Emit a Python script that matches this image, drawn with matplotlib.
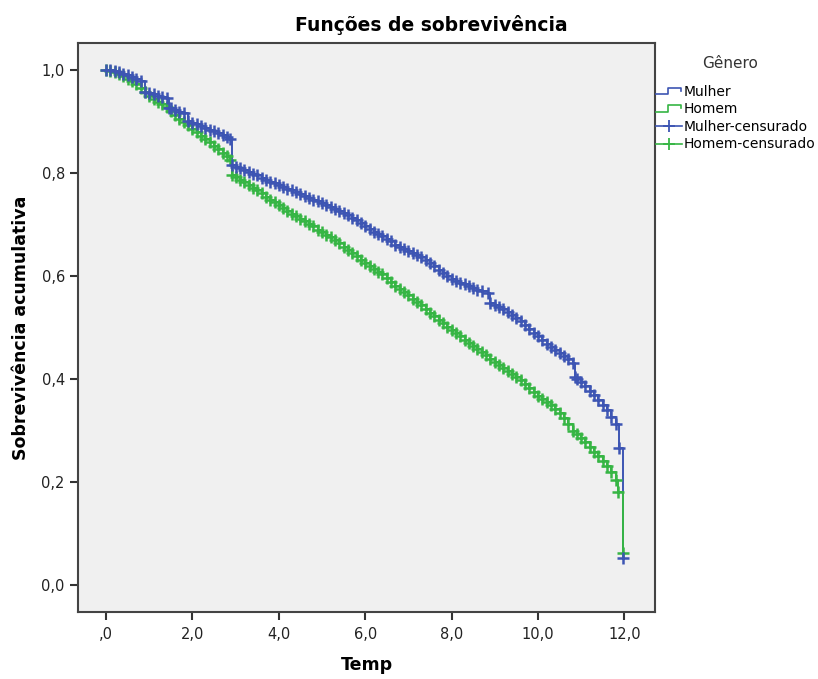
import matplotlib
matplotlib.use("Agg")
import matplotlib.pyplot as plt
from matplotlib.lines import Line2D
from matplotlib.legend_handler import HandlerBase

plt.rcParams['font.family'] = ['DejaVu Sans']

# Kaplan-Meier estimates
mulher_t = [0.0, 0.1, 0.2, 0.3, 0.4, 0.5, 0.6, 0.7, 0.8, 0.9, 1.0, 1.1, 1.2, 1.3, 1.4, 1.45,
            1.5, 1.6, 1.7, 1.8, 1.9, 2.0, 2.1, 2.2, 2.3, 2.4, 2.5, 2.6, 2.7, 2.8, 2.88, 2.92,
            3.0, 3.1, 3.2, 3.3, 3.4, 3.5, 3.6, 3.7, 3.8, 3.9, 4.0, 4.1, 4.2, 4.3, 4.4, 4.5,
            4.6, 4.7, 4.8, 4.9, 5.0, 5.1, 5.2, 5.3, 5.4, 5.5, 5.6, 5.7, 5.8, 5.9, 6.0, 6.1,
            6.2, 6.3, 6.4, 6.5, 6.6, 6.7, 6.8, 6.9, 7.0, 7.1, 7.2, 7.3, 7.4, 7.5, 7.6, 7.7,
            7.8, 7.9, 8.0, 8.1, 8.2, 8.3, 8.4, 8.5, 8.6, 8.7, 8.85, 8.9, 9.0, 9.1, 9.2, 9.3,
            9.4, 9.5, 9.6, 9.7, 9.8, 9.9, 10.0, 10.1, 10.2, 10.3, 10.4, 10.5, 10.6, 10.7,
            10.8, 10.85, 10.9, 11.0, 11.1, 11.2, 11.3, 11.4, 11.5, 11.6, 11.7, 11.8, 11.88,
            11.97]
mulher_s = [1.000, 0.999, 0.997, 0.995, 0.992, 0.989, 0.986, 0.982, 0.978, 0.957, 0.955,
            0.953, 0.950, 0.948, 0.945, 0.926, 0.925, 0.922, 0.919, 0.916, 0.900, 0.897,
            0.894, 0.891, 0.888, 0.884, 0.881, 0.877, 0.873, 0.869, 0.866, 0.815, 0.812,
            0.809, 0.806, 0.802, 0.798, 0.795, 0.791, 0.787, 0.783, 0.780, 0.776, 0.773,
            0.769, 0.766, 0.762, 0.759, 0.755, 0.752, 0.748, 0.745, 0.741, 0.738, 0.734,
            0.730, 0.726, 0.722, 0.718, 0.713, 0.708, 0.702, 0.696, 0.691, 0.686, 0.682,
            0.677, 0.672, 0.667, 0.661, 0.656, 0.652, 0.648, 0.644, 0.640, 0.636, 0.631,
            0.625, 0.619, 0.612, 0.606, 0.600, 0.595, 0.591, 0.587, 0.584, 0.580, 0.576,
            0.573, 0.570, 0.567, 0.547, 0.543, 0.539, 0.535, 0.530, 0.525, 0.519, 0.512,
            0.505, 0.497, 0.490, 0.483, 0.475, 0.468, 0.462, 0.456, 0.450, 0.445, 0.438,
            0.431, 0.404, 0.400, 0.395, 0.386, 0.377, 0.369, 0.360, 0.350, 0.340, 0.327,
            0.312, 0.266, 0.052]

homem_t = [0.0, 0.1, 0.2, 0.3, 0.4, 0.5, 0.6, 0.7, 0.8, 0.9, 1.0, 1.1, 1.2, 1.3, 1.4, 1.5,
           1.6, 1.7, 1.8, 1.9, 2.0, 2.1, 2.2, 2.3, 2.4, 2.5, 2.6, 2.7, 2.8, 2.88, 2.92, 3.0,
           3.1, 3.2, 3.3, 3.4, 3.5, 3.6, 3.7, 3.8, 3.9, 4.0, 4.1, 4.2, 4.3, 4.4, 4.5, 4.6,
           4.7, 4.8, 4.9, 5.0, 5.1, 5.2, 5.3, 5.4, 5.5, 5.6, 5.7, 5.8, 5.9, 6.0, 6.1, 6.2,
           6.3, 6.4, 6.5, 6.6, 6.7, 6.8, 6.9, 7.0, 7.1, 7.2, 7.3, 7.4, 7.5, 7.6, 7.7, 7.8,
           7.9, 8.0, 8.1, 8.2, 8.3, 8.4, 8.5, 8.6, 8.7, 8.8, 8.9, 9.0, 9.1, 9.2, 9.3, 9.4,
           9.5, 9.6, 9.7, 9.8, 9.9, 10.0, 10.1, 10.2, 10.3, 10.4, 10.5, 10.6, 10.7, 10.8,
           10.9, 11.0, 11.1, 11.2, 11.3, 11.4, 11.5, 11.6, 11.7, 11.8, 11.86, 11.97]
homem_s = [1.000, 0.998, 0.995, 0.992, 0.988, 0.983, 0.978, 0.972, 0.965, 0.957, 0.950,
           0.944, 0.938, 0.933, 0.927, 0.920, 0.912, 0.905, 0.898, 0.892, 0.886, 0.879,
           0.872, 0.866, 0.860, 0.853, 0.846, 0.839, 0.832, 0.825, 0.796, 0.792, 0.787,
           0.782, 0.777, 0.771, 0.766, 0.760, 0.754, 0.748, 0.743, 0.737, 0.732, 0.727,
           0.721, 0.716, 0.711, 0.706, 0.701, 0.696, 0.690, 0.685, 0.680, 0.675, 0.669,
           0.663, 0.657, 0.651, 0.645, 0.638, 0.631, 0.625, 0.619, 0.613, 0.608, 0.603,
           0.596, 0.588, 0.581, 0.575, 0.569, 0.563, 0.556, 0.549, 0.543, 0.536, 0.529,
           0.522, 0.515, 0.508, 0.501, 0.495, 0.489, 0.483, 0.476, 0.470, 0.464, 0.458,
           0.452, 0.446, 0.439, 0.433, 0.427, 0.421, 0.416, 0.410, 0.404, 0.398, 0.390,
           0.382, 0.374, 0.367, 0.361, 0.355, 0.349, 0.342, 0.334, 0.325, 0.312, 0.300,
           0.293, 0.285, 0.277, 0.268, 0.259, 0.250, 0.241, 0.232, 0.219, 0.205, 0.180,
           0.062]

x_ticks = [0, 2, 4, 6, 8, 10, 12]
x_tick_labels = [",0", "2,0", "4,0", "6,0", "8,0", "10,0", "12,0"]
y_ticks = [0.0, 0.2, 0.4, 0.6, 0.8, 1.0]
y_tick_labels = ["0,0", "0,2", "0,4", "0,6", "0,8", "1,0"]

BLUE = "#3d55b3"
GREEN = "#36b544"

fig = plt.figure(figsize=(8.18, 6.79), dpi=100)
ax = fig.add_axes([78/818, 1-612/679, (655-78)/818, (612-43)/679])
ax.set_facecolor("#f0f0f0")

ax.step(mulher_t, mulher_s, where='post', color=BLUE, lw=1.4, zorder=3)
ax.step(homem_t, homem_s, where='post', color=GREEN, lw=1.4, zorder=3)
ax.plot(homem_t, homem_s, ls='none', marker='+', ms=8, mew=1.8, color=GREEN, zorder=4)
ax.plot(mulher_t, mulher_s, ls='none', marker='+', ms=8, mew=1.8, color=BLUE, zorder=4)

ax.set_xlim(-0.65, 12.71)
ax.set_ylim(-0.052, 1.052)
ax.set_xticks(x_ticks)
ax.set_xticklabels(x_tick_labels)
ax.set_yticks(y_ticks)
ax.set_yticklabels(y_tick_labels)
ax.tick_params(axis='both', direction='out', length=6, width=1.5, color="#333333",
               labelsize=10.5, labelcolor="#222222")
ax.tick_params(axis='x', pad=5)
for sp in ax.spines.values():
    sp.set_color("#444444")
    sp.set_linewidth(1.5)

ax.set_xlabel("Temp", fontsize=12.5, fontweight='bold', labelpad=10)
ax.set_ylabel("Sobrevivência acumulativa", fontsize=12.5, fontweight='bold', labelpad=8)
fig.text(431/818, 1-25/679, "Funções de sobrevivência", fontsize=13.5, fontweight='bold',
         ha='center', va='center')


class StepHandler(HandlerBase):
    def create_artists(self, legend, orig_handle, xdescent, ydescent, width, height,
                       fontsize, trans):
        x0, y0 = -xdescent, -ydescent
        xs = [x0, x0 + 0.45*width, x0 + 0.45*width, x0 + 0.95*width, x0 + 0.95*width]
        ys = [y0 + 0.2*height, y0 + 0.2*height, y0 + 0.85*height, y0 + 0.85*height,
              y0 + 0.55*height]
        ln = Line2D(xs, ys, color=orig_handle.get_color(), lw=1.2)
        ln.set_transform(trans)
        return [ln]


h_m = Line2D([], [], color=BLUE)
h_h = Line2D([], [], color=GREEN)
h_mc = Line2D([], [], color=BLUE, marker='+', ms=9, mew=1.3, lw=1.2)
h_hc = Line2D([], [], color=GREEN, marker='+', ms=9, mew=1.3, lw=1.2)
leg = ax.legend([h_m, h_h, h_mc, h_hc],
                ["Mulher", "Homem", "Mulher-censurado", "Homem-censurado"],
                handler_map={h_m: StepHandler(), h_h: StepHandler()},
                frameon=False, loc='upper left',
                bbox_to_anchor=(656/818, 1-85/679), bbox_transform=fig.transFigure,
                fontsize=10, handlelength=1.9, handletextpad=0.1,
                labelspacing=0.25, borderaxespad=0, borderpad=0)
fig.text(730/818, 1-63/679, "Gênero", fontsize=11, color="#333333",
         ha='center', va='center')

fig.savefig("out.png", dpi=100, facecolor="white")
